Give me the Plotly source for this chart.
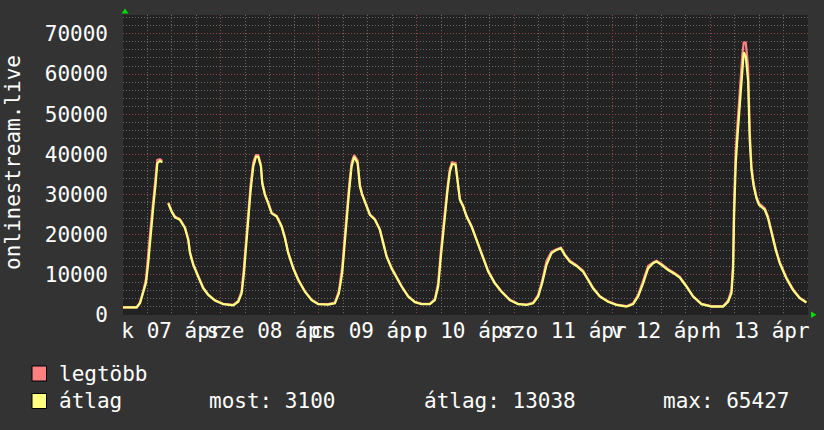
import plotly.graph_objects as go

# ---- data (hours since Tue 07 Apr 00:00, values in thousands) ----
hours = [0.0, 3.36, 4.17, 4.98, 5.64, 6.2, 6.79, 7.43, 8.02, 8.41, 9.07, 9.63,
         10.3,
         11.1, 11.94, 12.75, 13.97, 15.2, 16.0, 16.43, 17.23, 18.46, 19.69, 20.91, 22.55,
         24.59, 27.04, 28.27, 29.1, 29.66, 30.33, 30.72, 31.31, 31.94, 32.6, 33.17, 33.83,
         34.15, 34.81, 35.62, 36.45, 37.68, 38.91, 39.72, 40.52, 41.75, 42.98, 44.62, 46.26,
         47.88, 50.33, 51.97, 52.95, 53.76, 54.25, 54.84, 55.48, 56.07, 56.7, 57.54, 58.1,
         58.67, 59.74, 60.55, 61.78, 63.0, 63.81, 64.65, 65.87, 66.68, 67.49, 68.33, 69.94,
         71.59, 73.23, 75.26, 76.49, 77.3, 77.96, 78.52, 79.11, 79.6, 80.17, 80.73, 81.56,
         82.05, 82.62, 83.43, 84.26, 85.49, 86.71, 87.94, 89.56, 91.2, 92.84, 94.88, 96.91,
         98.97, 100.59, 101.82, 102.8, 103.87, 105.1, 106.32, 107.38, 108.36, 109.59, 111.23,
         112.85, 114.07, 115.3, 116.94, 118.97, 121.03, 123.49, 125.1, 126.33, 127.56, 128.78,
         130.01, 130.84, 132.07, 133.69, 135.33, 136.55, 138.19, 139.81, 141.87, 144.32,
         147.17, 148.4, 149.23, 149.62, 149.87, 150.28, 150.7, 151.02, 151.43, 151.92, 152.24,
         152.73, 153.3, 153.71, 154.13, 154.69, 155.35, 155.99, 157.39, 158.2, 159.03, 160.08,
         161.06, 162.71, 164.33, 165.97, 167.61]

atlag_k = [1.9, 1.9, 2.9, 5.4, 8.0, 13.0, 20.4, 27.0, 32.9, 37.8, 38.4, 38.0,
           None,
           27.8, 25.7, 24.3, 23.7, 21.6, 18.7, 15.4, 12.5, 9.5, 6.6, 5.0, 3.6,
           2.7, 2.4, 3.3, 5.4, 10.4, 18.7, 25.3, 31.1, 36.9, 39.4, 39.4, 37.0,
           32.8, 29.9, 27.8, 25.3, 24.5, 22.0, 19.1, 15.4, 11.6, 8.7, 5.8, 3.7,
           2.7, 2.6, 2.9, 5.4, 10.4, 17.0, 23.7, 31.1, 37.0, 39.4, 37.8, 32.0,
           29.9, 27.0, 24.9, 23.7, 21.2, 17.9, 14.5, 11.6, 10.0, 8.7, 7.1, 4.6,
           3.2, 2.7, 2.7, 3.7, 7.1, 14.5, 20.4, 26.2, 31.1, 35.7, 37.6, 37.4,
           32.8, 28.7, 27.0, 24.5, 22.0, 18.7, 14.9, 10.8, 7.9, 5.8, 3.7, 2.7,
           2.5, 2.9, 4.6, 7.9, 12.5, 15.4, 16.2, 16.6, 14.9, 13.3, 12.2,
           10.8, 8.7, 6.6, 4.6, 3.3, 2.5, 2.1, 2.7, 4.6, 7.9, 11.6,
           12.9, 13.3, 12.5, 11.2, 10.2, 9.3, 7.1, 4.6, 2.7, 2.1,
           2.1, 3.3, 5.4, 11.2, 24.5, 37.8, 44.4, 50.2, 54.4, 61.0, 65.4,
           64.4, 58.5, 43.6, 36.1, 32.0, 29.1, 27.4, 26.2, 24.1, 20.4, 16.2,
           12.9, 9.1, 6.2, 4.2, 3.1]

legtobb_k = [1.9, 1.9, 3.2, 6.0, 9.0, 14.5, 22.0, 28.5, 34.5, 38.6, 38.8, 38.4,
             None,
             28.0, 25.9, 24.5, 23.9, 21.8, 19.0, 15.7, 12.7, 9.7, 6.8, 5.1, 3.7,
             2.8, 2.5, 3.5, 6.0, 12.0, 20.5, 27.0, 32.5, 38.0, 39.8, 39.8, 37.3,
             33.0, 30.1, 28.0, 25.5, 24.7, 22.2, 19.3, 15.6, 11.8, 8.9, 5.9, 3.8,
             2.8, 2.7, 3.1, 6.0, 12.0, 18.5, 25.0, 32.5, 38.0, 39.8, 38.5, 32.4,
             30.1, 27.2, 25.1, 23.9, 21.4, 18.1, 14.7, 11.8, 10.2, 8.9, 7.2, 4.7,
             3.3, 2.8, 2.8, 4.0, 8.0, 16.0, 22.0, 27.5, 32.0, 36.5, 38.0, 37.8,
             33.0, 28.9, 27.2, 24.7, 22.2, 18.9, 15.1, 11.0, 8.0, 5.9, 3.8, 2.8,
             2.6, 3.1, 5.0, 8.5, 13.5, 15.8, 16.4, 16.8, 15.1, 13.5, 12.4,
             11.0, 8.9, 6.8, 4.7, 3.4, 2.6, 2.2, 2.9, 5.0, 8.5, 12.2,
             13.1, 13.5, 12.7, 11.4, 10.4, 9.5, 7.2, 4.7, 2.8, 2.2,
             2.2, 3.6, 6.2, 13.0, 28.0, 41.0, 47.5, 53.0, 58.0, 65.0, 67.8,
             67.8, 62.0, 46.0, 37.0, 32.6, 29.5, 27.8, 26.6, 24.5, 20.8, 16.6,
             13.2, 9.3, 6.4, 4.3, 3.2]

atlag = [None if v is None else v * 1000 for v in atlag_k]
legtobb = [None if v is None else v * 1000 for v in legtobb_k]

day_noon = [12, 36, 60, 84, 108, 132, 156]
day_labels = ["k 07 ápr", "sze 08 ápr", "cs 09 ápr", "p 10 ápr",
              "szo 11 ápr", "v 12 ápr", "h 13 ápr"]
day_bounds = [0, 24, 48, 72, 96, 120, 144, 168]
y_ticks = [0, 10000, 20000, 30000, 40000, 50000, 60000, 70000]

legend_rows = [("legtöbb", "#FF8080"), ("átlag", "#FFFF80")]
stats = ["most: 3100", "átlag: 13038", "max: 65427"]

# ---- figure ----
FONT = "DejaVu Sans Mono"
L, R, T, B = 123, 16, 15, 115
W, H = 824, 430
PW, PH = W - L - R, H - T - B

def px(xp):
    return (xp - L) / PW

def py(yp):
    return (H - B - yp) / PH

fig = go.Figure()
fig.add_trace(go.Scatter(x=hours, y=legtobb, mode="lines",
                         line=dict(color="#FF8080", width=2.2),
                         connectgaps=False, hoverinfo="skip", showlegend=False))
fig.add_trace(go.Scatter(x=hours, y=atlag, mode="lines",
                         line=dict(color="#FFFF80", width=2.2),
                         connectgaps=False, hoverinfo="skip", showlegend=False))
# carrier trace for the label axis
fig.add_trace(go.Scatter(x=hours, y=atlag, mode="lines", xaxis="x2",
                         line=dict(width=0), opacity=0, hoverinfo="skip",
                         showlegend=False))

grid_major = "rgba(160,60,60,0.8)"
grid_minor = "rgba(125,125,125,0.8)"

fig.update_layout(
    width=W, height=H,
    margin=dict(l=L, r=R, t=T, b=B),
    paper_bgcolor="#333333",
    plot_bgcolor="#222222",
    font=dict(family=FONT, size=21, color="#ffffff"),
    showlegend=False,
    xaxis=dict(range=[0, 168], tickvals=day_bounds, showticklabels=False,
               showgrid=True, gridcolor=grid_major, griddash="1px,2px", gridwidth=1,
               zeroline=False, ticks="",
               minor=dict(dtick=6, tick0=0, showgrid=True, gridcolor=grid_minor,
                          griddash="1px,2px", ticks="")),
    xaxis2=dict(range=[0, 168], overlaying="x", anchor="y", side="bottom",
                tickvals=day_noon, ticktext=day_labels, tickangle=0,
                showgrid=False, zeroline=False, ticks="",
                tickfont=dict(family=FONT, size=21, color="#ffffff"),
                ticklabelstandoff=1),
    yaxis=dict(range=[0, 74700], tickvals=y_ticks, tickformat="d",
               showgrid=True, gridcolor=grid_major, griddash="1px,2px",
               zeroline=False, ticks="",
               tickfont=dict(family=FONT, size=21, color="#ffffff"),
               ticklabelstandoff=14,
               minor=dict(dtick=2000, tick0=0, showgrid=True, gridcolor=grid_minor,
                          griddash="1px,2px", ticks="")),
)

ann = []
ann.append(dict(text="onlinestream.live", textangle=-90, xref="paper", yref="paper",
                x=px(13), y=py(163), xanchor="center", yanchor="middle",
                showarrow=False, font=dict(family=FONT, size=21, color="#ffffff")))
row_y = [373.5, 401]
shapes = []
for (name, col), yy in zip(legend_rows, row_y):
    ann.append(dict(text=name, xref="paper", yref="paper", x=px(56.5), y=py(yy),
                    xanchor="left", yanchor="middle", showarrow=False,
                    font=dict(family=FONT, size=21, color="#ffffff")))
    shapes.append(dict(type="rect", xref="paper", yref="paper",
                       x0=px(32), x1=px(46.5), y0=py(yy - 7.5), y1=py(yy + 7.5),
                       fillcolor=col, line=dict(color="#000000", width=1)))
for s, xx in zip(stats, [206.5, 422, 661]):
    ann.append(dict(text=s, xref="paper", yref="paper", x=px(xx), y=py(row_y[1]),
                    xanchor="left", yanchor="middle", showarrow=False,
                    font=dict(family=FONT, size=21, color="#ffffff")))

# green axis arrows
shapes.append(dict(type="path", xref="paper", yref="paper",
                   path=f"M {px(121.5)} {py(13.5)} L {px(128.5)} {py(13.5)} L {px(125)} {py(8.5)} Z",
                   fillcolor="#00DD00", line=dict(width=0)))
shapes.append(dict(type="path", xref="paper", yref="paper",
                   path=f"M {px(811)} {py(311.5)} L {px(811)} {py(318)} L {px(816.5)} {py(314.7)} Z",
                   fillcolor="#00DD00", line=dict(width=0)))

fig.update_layout(annotations=ann, shapes=shapes)
fig.write_html("out.html", config={"displayModeBar": False},
               post_script="document.body.style.margin='0';document.body.style.padding='0';"
                           "document.body.style.background='#333333';")
